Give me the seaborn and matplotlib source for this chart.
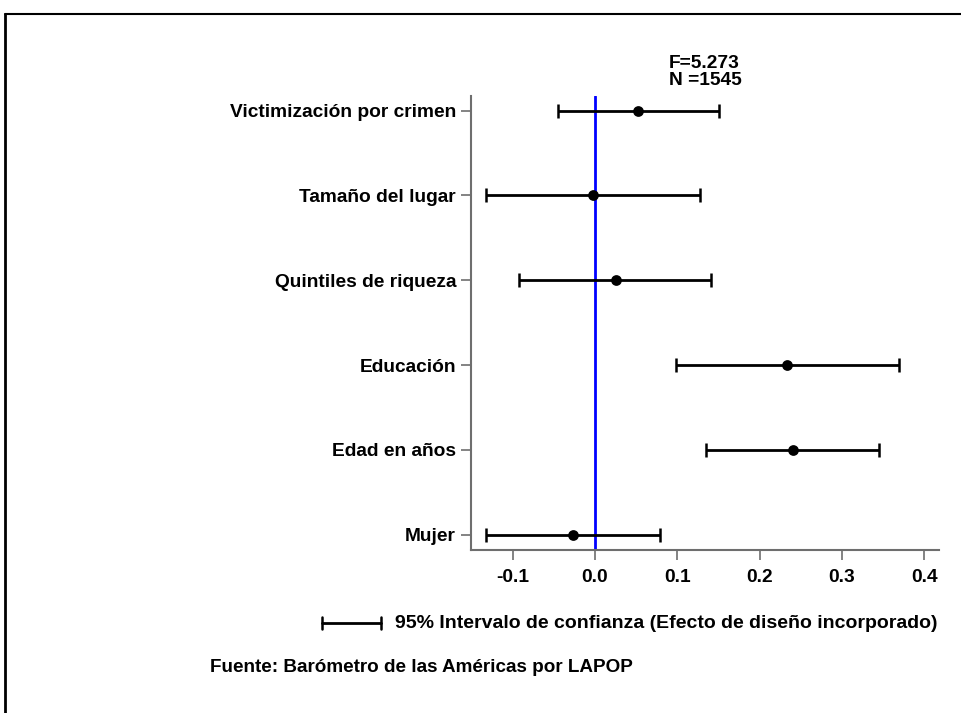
import numpy as np
import pandas as pd
import seaborn as sns
import matplotlib.pyplot as plt
from matplotlib.lines import Line2D

# Coefficients
variables = ["Victimización por crimen", "Tamaño del lugar", "Quintiles de riqueza",
             "Educación", "Edad en años", "Mujer"]
coef = [0.052, -0.003, 0.025, 0.233, 0.241, -0.027]
ci_low = [-0.045, -0.132, -0.092, 0.099, 0.135, -0.133]
ci_high = [0.151, 0.128, 0.141, 0.369, 0.345, 0.079]

x_ticks = [-0.1, 0.0, 0.1, 0.2, 0.3, 0.4]
stats_text = "F=5.273\nN =1545"
legend_text = "95% Intervalo de confianza (Efecto de diseño incorporado)"
source_text = "Fuente: Barómetro de las Américas por LAPOP"

df = pd.DataFrame({"variable": variables, "coef": coef, "lo": ci_low, "hi": ci_high})
df["pos"] = np.arange(len(df))

sns.set_style("ticks")
plt.rcParams["font.family"] = ["Liberation Sans", "DejaVu Sans"]
plt.rcParams["font.weight"] = "bold"
plt.rcParams["text.color"] = "black"

W, H = 961, 713
fig = plt.figure(figsize=(W / 100, H / 100), dpi=100)
ax = fig.add_axes([470.7 / W, 1 - 550 / H, (939 - 470.7) / W, (550 - 96) / H])

# zero reference line
ax.axvline(0, color="#0000ff", lw=2, zorder=1)

# confidence intervals
ax.errorbar(df["coef"], df["pos"],
            xerr=[df["coef"] - df["lo"], df["hi"] - df["coef"]],
            fmt="none", ecolor="black", elinewidth=2, capsize=5, capthick=1.8, zorder=2)

# point estimates
sns.scatterplot(data=df, x="coef", y="pos", color="black", s=60, edgecolor="black",
                linewidth=0, zorder=3, ax=ax, legend=False)

ax.set_xlim(-0.151, 0.418)
ax.set_ylim(5.18, -0.173)
ax.set_xticks(x_ticks)
ax.set_xticklabels([f"{t:.1f}" for t in x_ticks])
ax.set_yticks(df["pos"])
ax.set_yticklabels(df["variable"])
ax.set_xlabel("")
ax.set_ylabel("")

for s in ["top", "right"]:
    ax.spines[s].set_visible(False)
for s in ["left", "bottom"]:
    ax.spines[s].set_color("#6e6e6e")
    ax.spines[s].set_linewidth(1.5)
ax.tick_params(axis="both", colors="#6e6e6e", width=1.2, length=7, labelsize=13.8,
               labelcolor="black")
ax.tick_params(axis="x", pad=7)
for lbl in ax.get_xticklabels() + ax.get_yticklabels():
    lbl.set_fontweight("bold")

# F and N annotation
fig.text(669 / W, 1 - 72 / H, stats_text, ha="left", va="center",
         fontsize=13.8, fontweight="bold", linespacing=1.02, color="black")

# legend key drawn by hand
ly = 1 - 623 / H
fig.add_artist(Line2D([322 / W, 381 / W], [ly, ly], color="black", lw=2))
for xk in (322, 381):
    fig.add_artist(Line2D([xk / W, xk / W], [ly - 6 / H, ly + 6 / H], color="black", lw=1.8))
fig.text(395 / W, ly, legend_text, ha="left", va="center", fontsize=14,
         fontweight="bold", color="black")

fig.text(210 / W, 1 - 668 / H, source_text, ha="left", va="center",
         fontsize=13.6, fontweight="bold", color="black")

# outer frame (top and left edges)
fig.add_artist(Line2D([5 / W, 1], [1 - 14 / H, 1 - 14 / H], color="black", lw=1.5))
fig.add_artist(Line2D([5 / W, 5 / W], [1 - 14 / H, 0], color="black", lw=2))

fig.savefig("out.png", dpi=100)
